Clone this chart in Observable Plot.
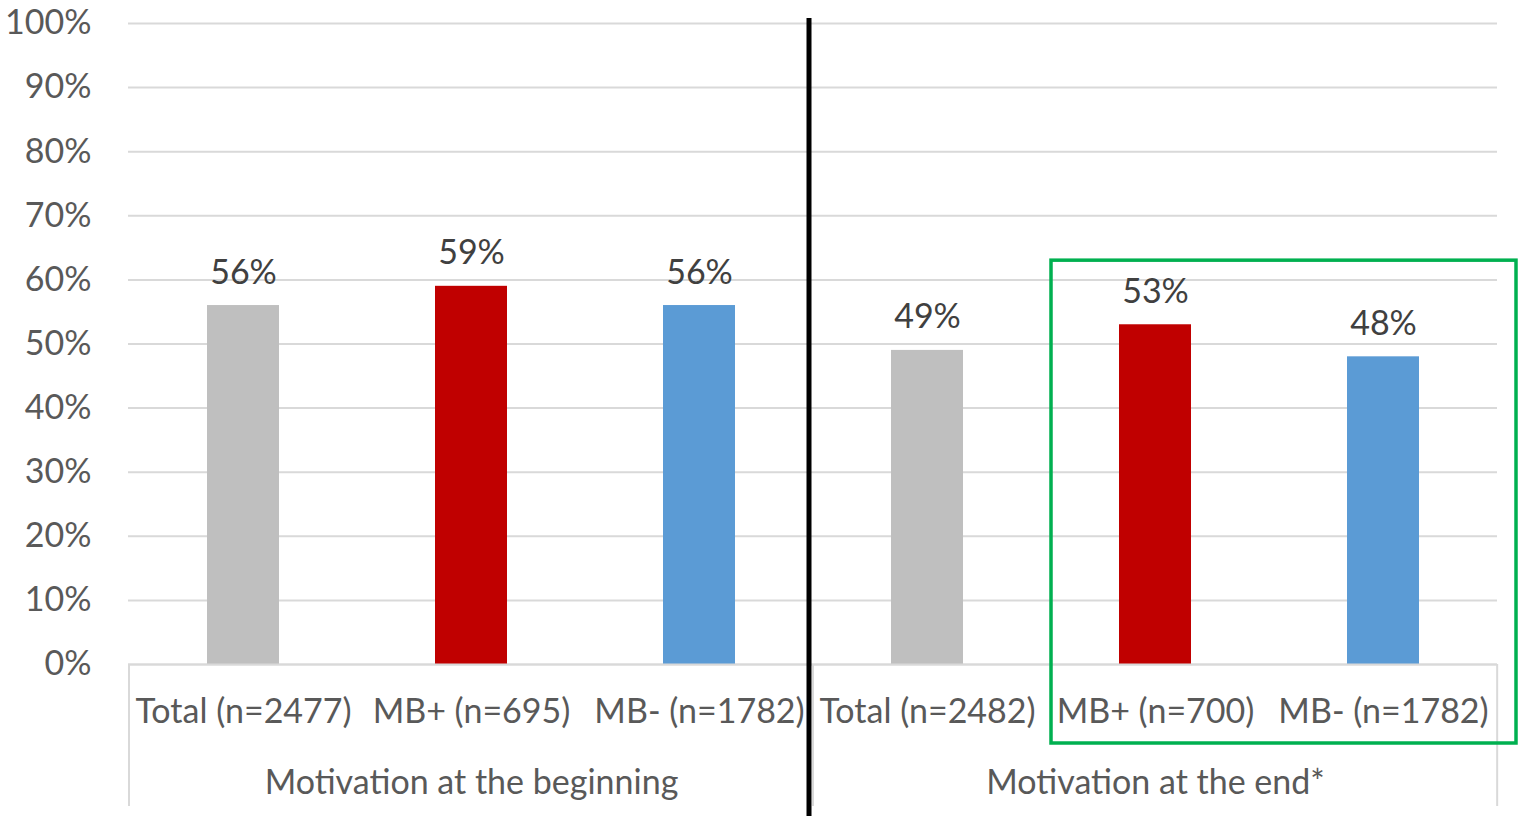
<!DOCTYPE html>
<html><head><meta charset="utf-8">
<script src="https://cdn.jsdelivr.net/npm/d3@7"></script>
<script src="https://cdn.jsdelivr.net/npm/@observablehq/plot@0.6"></script>
<style>body{margin:0;background:#fff}</style>
</head><body><div id="chart"></div>
<script>
// ---- data ----
const keys = ["b-total", "b-mbp", "b-mbm", "e-total", "e-mbp", "e-mbm"];
const categoryLabels = ["Total (n=2477)", "MB+ (n=695)", "MB- (n=1782)", "Total (n=2482)", "MB+ (n=700)", "MB- (n=1782)"];
const series = ["Total", "MB+", "MB-", "Total", "MB+", "MB-"];
const values = [56, 59, 56, 49, 53, 48];
const groupNames = ["Motivation at the beginning", "Motivation at the end*"];
const groupMiddle = ["b-mbp", "e-mbp"];
const seriesNames = ["Total", "MB+", "MB-"];
const seriesColors = ["#BFBFBF", "#C00000", "#5B9BD5"];
const yTicks = [0, 10, 20, 30, 40, 50, 60, 70, 80, 90, 100];

const labelOf = Object.fromEntries(keys.map((k, i) => [k, categoryLabels[i]]));
const data = keys.map((k, i) => ({key: k, series: series[i], value: values[i]}));
const groups = groupNames.map((g, i) => ({name: g, mid: groupMiddle[i]}));

function annotations(index, scales, vals, dims) {
  const {width, height, marginLeft, marginRight, marginBottom} = dims;
  const step = (width - marginLeft - marginRight) / keys.length;
  const y0 = height - marginBottom;
  const g = d3.create("svg:g");
  // light category separators below the axis
  for (const xx of [scales.x(keys[0]), scales.x(keys[3]), scales.x(keys[5]) + step]) {
    g.append("line").attr("x1", xx).attr("x2", xx).attr("y1", y0).attr("y2", y0 + 142)
      .attr("stroke", "#d9d9d9").attr("stroke-width", 2);
  }
  // black divider between the two groups
  const xb = scales.x(keys[3]) - 4;
  g.append("line").attr("x1", xb).attr("x2", xb).attr("y1", scales.y(100) - 5).attr("y2", height)
    .attr("stroke", "#000").attr("stroke-width", 5);
  // green highlight box
  const left = scales.x(keys[4]) + 10, right = width - 3;
  const top = scales.y(63), bottom = y0 + 79;
  g.append("rect").attr("x", left).attr("y", top).attr("width", right - left).attr("height", bottom - top)
    .attr("fill", "none").attr("stroke", "#00B050").attr("stroke-width", 3.5);
  return g.node();
}

const FS = 34;
const chart = Plot.plot({
  width: 1519, height: 816,
  marginLeft: 128, marginRight: 22, marginTop: 23, marginBottom: 152,
  style: {fontFamily: "Lato, sans-serif", fontSize: FS + "px", color: "#595959", background: "white"},
  x: {domain: keys, padding: 0, axis: null},
  y: {domain: [0, 100], axis: null},
  color: {domain: seriesNames, range: seriesColors},
  marks: [
    Plot.gridY(yTicks, {stroke: "#d9d9d9", strokeOpacity: 1, strokeWidth: 2}),
    Plot.axisY(yTicks, {label: null, tickSize: 0, tickPadding: 37, tickFormat: d => d + "%", fill: "#595959", fontSize: FS}),
    Plot.axisX({label: null, tickSize: 0, tickPadding: 34, tickFormat: k => labelOf[k], fill: "#595959", fontSize: FS}),
    Plot.barY(data, {x: "key", y: "value", fill: "series", insetLeft: 78, insetRight: 78}),
    Plot.ruleY([0], {stroke: "#d9d9d9", strokeWidth: 2}),
    Plot.text(data, {x: "key", y: "value", text: d => d.value + "%", lineAnchor: "bottom", dy: -22, fill: "#404040", fontSize: FS}),
    Plot.text(groups, {x: "mid", text: "name", frameAnchor: "bottom", lineAnchor: "bottom", dy: 129, fill: "#595959", fontSize: FS}),
    annotations
  ]
});
document.getElementById("chart").append(chart);
</script>
</body></html>
